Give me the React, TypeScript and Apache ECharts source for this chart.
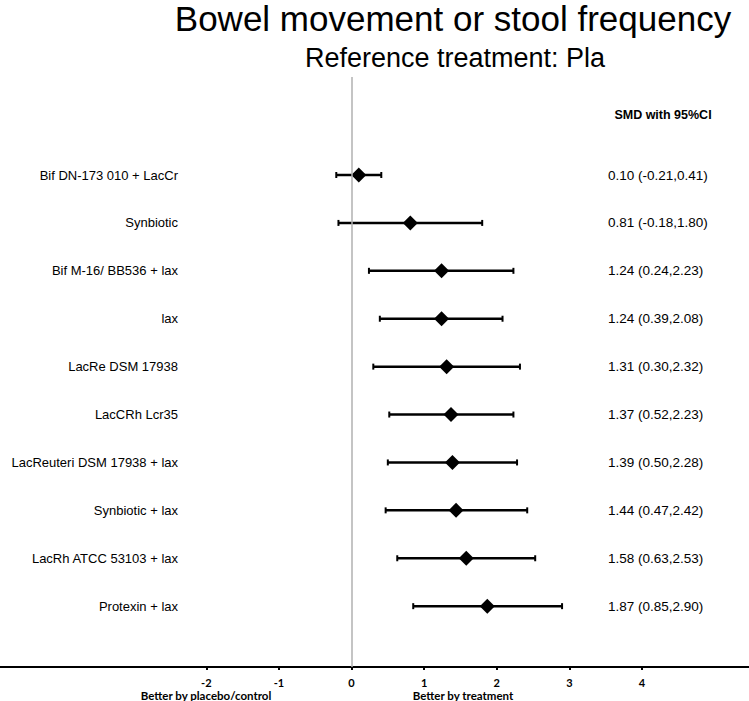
import React, { useEffect, useRef } from "react";
import * as echarts from "echarts";

const treatments = [
  "Bif DN-173 010 + LacCr",
  "Synbiotic",
  "Bif M-16/ BB536 + lax",
  "lax",
  "LacRe DSM 17938",
  "LacCRh Lcr35",
  "LacReuteri DSM 17938 + lax",
  "Synbiotic + lax",
  "LacRh ATCC 53103 + lax",
  "Protexin + lax",
];
const smd = [0.1, 0.81, 1.24, 1.24, 1.31, 1.37, 1.39, 1.44, 1.58, 1.87];
const lower = [-0.21, -0.18, 0.24, 0.39, 0.3, 0.52, 0.5, 0.47, 0.63, 0.85];
const upper = [0.41, 1.8, 2.23, 2.08, 2.32, 2.23, 2.28, 2.42, 2.53, 2.9];
const xTicks = [-2, -1, 0, 1, 2, 3, 4];

const titleText = "Bowel movement or stool frequency";
const subtitleText = "Reference treatment: Pla";
const headerText = "SMD with 95%CI";
const leftCaption = "Better by placebo/control";
const rightCaption = "Better by treatment";

const rowIdx = treatments.map((_, i) => i);
const ciText = smd.map(
  (v, i) => `${v.toFixed(2)} (${lower[i].toFixed(2)},${upper[i].toFixed(2)})`
);

export default function App() {
  const ref = useRef<HTMLDivElement>(null);
  useEffect(() => {
    if (!ref.current) return;
    const chart = echarts.init(ref.current, undefined, { renderer: "svg" });
    const arial = "Liberation Sans, Arial, sans-serif";
    const bottomFont = "Lato, Liberation Sans, sans-serif";
    chart.setOption({
      animation: false,
      backgroundColor: "#ffffff",
      grid: { left: 0, right: 0, top: 77, bottom: 34, containLabel: false },
      graphic: [
        {
          type: "text",
          x: 453,
          y: 18,
          style: {
            text: titleText,
            fontSize: 35,
            fontFamily: arial,
            fill: "#000",
            align: "center",
            verticalAlign: "middle",
          },
        },
        {
          type: "text",
          x: 455,
          y: 58,
          style: {
            text: subtitleText,
            fontSize: 27,
            fontFamily: arial,
            fill: "#000",
            align: "center",
            verticalAlign: "middle",
          },
        },
        {
          type: "text",
          x: 663,
          y: 115,
          style: {
            text: headerText,
            fontSize: 12.5,
            fontWeight: "bold",
            fontFamily: arial,
            fill: "#000",
            align: "center",
            verticalAlign: "middle",
          },
        },
        {
          type: "text",
          x: 206,
          y: 695,
          style: {
            text: leftCaption,
            fontSize: 11.5,
            fontWeight: "bold",
            fontFamily: bottomFont,
            fill: "#000",
            align: "center",
            verticalAlign: "middle",
          },
        },
        {
          type: "text",
          x: 463,
          y: 695,
          style: {
            text: rightCaption,
            fontSize: 11.5,
            fontWeight: "bold",
            fontFamily: bottomFont,
            fill: "#000",
            align: "center",
            verticalAlign: "middle",
          },
        },
      ],
      xAxis: {
        type: "value",
        min: -4.842,
        max: 5.475,
        splitLine: { show: false },
        axisLine: {
          show: true,
          onZero: false,
          lineStyle: { color: "#000", width: 2 },
        },
        axisTick: {
          show: true,
          customValues: xTicks,
          length: 3,
          lineStyle: { color: "#000", width: 2 },
        },
        axisLabel: {
          customValues: xTicks,
          margin: 10,
          fontSize: 11,
          fontWeight: "bold",
          fontFamily: bottomFont,
          color: "#000",
        },
      },
      yAxis: [
        {
          type: "value",
          inverse: true,
          position: "left",
          min: -2.046,
          max: 10.27,
          splitLine: { show: false },
          axisLine: { show: false },
          axisTick: { show: false },
          axisLabel: {
            customValues: rowIdx,
            inside: true,
            margin: 178,
            align: "right",
            fontSize: 13,
            fontFamily: arial,
            color: "#000",
            formatter: (v: number) => treatments[Math.round(v)] ?? "",
          },
        },
        {
          type: "value",
          inverse: true,
          position: "right",
          min: -2.046,
          max: 10.27,
          splitLine: { show: false },
          axisLine: { show: false },
          axisTick: { show: false },
          axisLabel: {
            customValues: rowIdx,
            inside: true,
            margin: 141,
            align: "left",
            fontSize: 13.5,
            fontFamily: arial,
            color: "#000",
            formatter: (v: number) => ciText[Math.round(v)] ?? "",
          },
        },
      ],
      series: [
        {
          type: "custom",
          xAxisIndex: 0,
          yAxisIndex: 0,
          data: smd.map((v, i) => [v, i, lower[i], upper[i]]),
          encode: { x: [0, 2, 3], y: 1 },
          renderItem: (params: any, api: any) => {
            const y = api.value(1);
            const c = api.coord([api.value(0), y]);
            const l = api.coord([api.value(2), y]);
            const r = api.coord([api.value(3), y]);
            const h = 7.5;
            const cap = 3;
            return {
              type: "group",
              children: [
                {
                  type: "line",
                  shape: { x1: l[0], y1: c[1], x2: r[0], y2: c[1] },
                  style: { stroke: "#000", lineWidth: 2.5 },
                },
                {
                  type: "line",
                  shape: { x1: l[0], y1: c[1] - cap, x2: l[0], y2: c[1] + cap },
                  style: { stroke: "#000", lineWidth: 2 },
                },
                {
                  type: "line",
                  shape: { x1: r[0], y1: c[1] - cap, x2: r[0], y2: c[1] + cap },
                  style: { stroke: "#000", lineWidth: 2 },
                },
                {
                  type: "polygon",
                  shape: {
                    points: [
                      [c[0], c[1] - h],
                      [c[0] + h, c[1]],
                      [c[0], c[1] + h],
                      [c[0] - h, c[1]],
                    ],
                  },
                  style: { fill: "#000" },
                },
              ],
            };
          },
          markLine: {
            silent: true,
            symbol: "none",
            label: { show: false },
            lineStyle: { color: "#b0b0b0", width: 1.5, type: "solid" },
            data: [{ xAxis: 0 }],
          },
          z: 3,
        },
      ],
    });
    return () => chart.dispose();
  }, []);
  return (
    <div
      ref={ref}
      style={{ position: "fixed", left: 0, top: 0, width: 749, height: 701 }}
    />
  );
}
